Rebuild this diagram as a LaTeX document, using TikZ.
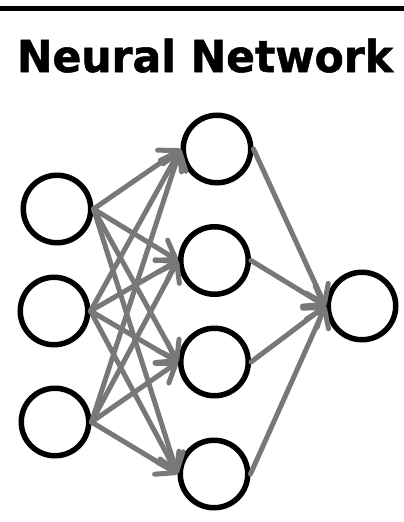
\documentclass[tikz,border=0pt]{standalone}
\usepackage{fontspec}
\usepackage{graphicx}
\newfontfamily\titlefont[BoldFeatures={FakeBold=1.2}]{DejaVu Sans}
\usetikzlibrary{arrows.meta}
\definecolor{edgegray}{RGB}{120,120,120}
\begin{document}
\begin{tikzpicture}[x=1pt,y=-1pt,
  neuron/.style={circle,draw=black,line width=5.5pt,fill=white,minimum size=67.5pt,inner sep=0pt},
  link/.style={draw=edgegray,line width=5pt,line cap=round,line join=round,
    -{Straight Barb[length=17pt,width=24pt,line cap=round,line join=round]}}]
\useasboundingbox (0,0) rectangle (404,522);
% header rule and title
\draw[line width=5pt] (0,8.5) -- (404,8.5);
\node[anchor=base,inner sep=0pt] (title) at (205,72)
  {\resizebox{376pt}{\height}{\titlefont\bfseries\fontsize{44pt}{48pt}\selectfont Neural Network}};
% input layer
\node[neuron] (i1) at (57,209) {};
\node[neuron] (i2) at (54,311) {};
\node[neuron] (i3) at (55,422) {};
% hidden layer
\node[neuron] (h1) at (217,149) {};
\node[neuron] (h2) at (214.5,260.5) {};
\node[neuron] (h3) at (214.5,362) {};
\node[neuron] (h4) at (214,474) {};
% output layer
\node[neuron] (o1) at (362,306) {};
% connections
\foreach \i in {i1,i2,i3}
  \foreach \h in {h1,h2,h3,h4}
    \draw[link] (\i.east) -- (\h.west);
\foreach \h in {h1,h2,h3,h4}
  \draw[link] (\h.east) -- (o1.west);
\end{tikzpicture}
\end{document}
